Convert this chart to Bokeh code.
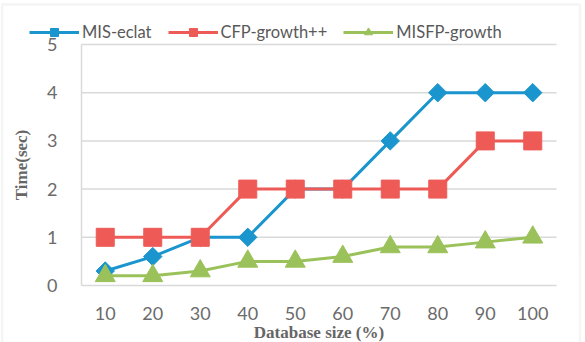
import numpy as np
from bokeh.plotting import figure
from bokeh.models import (Legend, LegendItem, FixedTicker, Range1d, LinearAxis,
                          BoxAnnotation)
from bokeh.embed import file_html
from bokeh.resources import INLINE

sizes = [10, 20, 30, 40, 50, 60, 70, 80, 90, 100]
mis_eclat = [0.3, 0.6, 1, 1, 2, 2, 3, 4, 4, 4]
cfp_growth = [1, 1, 1, 2, 2, 2, 2, 2, 3, 3]
misfp_growth = [0.2, 0.2, 0.3, 0.5, 0.5, 0.6, 0.8, 0.8, 0.9, 1.0]
series_names = ["MIS-eclat", "CFP-growth++", "MISFP-growth"]
y_ticks = [0, 1, 2, 3, 4, 5]

BLUE = "#1B95CD"
RED = "#EE5B57"
GREEN = "#9BC25A"
TXT = "#6b6b6b"
GRID = "#d9d9d9"

# layout geometry (pixels)
W, H = 585, 342
PL, PR, PT, PB = 81, 556, 44, 285      # plot area edges
X_LO, X_HI = 5, 105                     # data extent of the plot area
Y_LO, Y_HI = 0, 5

sx = (PR - PL) / (X_HI - X_LO)
sy = (PB - PT) / (Y_HI - Y_LO)
def px2x(px): return X_LO + (px - PL) / sx
def py2y(py): return Y_LO + (PB - py) / sy

p = figure(width=W, height=H, output_backend="svg", toolbar_location=None,
           x_range=Range1d(px2x(0), px2x(W)), y_range=Range1d(py2y(H), py2y(0)),
           x_axis_location=None, y_axis_location=None,
           min_border=0, min_border_left=0, min_border_right=0,
           min_border_top=0, min_border_bottom=0)
p.outline_line_color = None
p.background_fill_color = "white"
p.border_fill_color = "white"
p.xgrid.visible = False
p.ygrid.visible = False

# horizontal gridlines
p.segment(x0=[X_LO] * len(y_ticks[1:]), x1=[X_HI] * len(y_ticks[1:]),
          y0=y_ticks[1:], y1=y_ticks[1:], line_color=GRID, line_width=1.5)

# axes
xaxis = LinearAxis(fixed_location=Y_LO, bounds=(X_LO, X_HI),
                   ticker=FixedTicker(ticks=sizes), axis_label="Database size (%)")
yaxis = LinearAxis(fixed_location=X_LO, bounds=(Y_LO, Y_HI),
                   ticker=FixedTicker(ticks=y_ticks), axis_label="Time(sec)")
for ax in (xaxis, yaxis):
    ax.major_tick_line_color = None
    ax.minor_tick_line_color = None
    ax.axis_line_color = GRID
    ax.axis_line_width = 1.5
    ax.major_label_text_color = TXT
    ax.major_label_text_font = "Lato"
    ax.major_label_text_font_size = "18px"
    ax.axis_label_text_font = "Liberation Serif"
    ax.axis_label_text_font_style = "bold"
    ax.axis_label_text_font_size = "17px"
    ax.axis_label_text_color = "#666666"
xaxis.major_label_standoff = 15
xaxis.axis_label_standoff = 0
yaxis.major_label_standoff = 18
yaxis.axis_label_standoff = 13
p.add_layout(xaxis, "below")
p.add_layout(yaxis, "left")

l1 = p.line(sizes, mis_eclat, line_color=BLUE, line_width=3)
m1 = p.scatter(sizes, mis_eclat, marker="square", angle=np.pi / 4, size=13,
               fill_color=BLUE, line_color=BLUE)
l2 = p.line(sizes, cfp_growth, line_color=RED, line_width=3)
m2 = p.scatter(sizes, cfp_growth, marker="square", size=18,
               fill_color=RED, line_color=RED)
l3 = p.line(sizes, misfp_growth, line_color=GREEN, line_width=3)
m3 = p.scatter(sizes, misfp_growth, marker="triangle", size=20,
               fill_color=GREEN, line_color=GREEN)

legend = Legend(items=[
    LegendItem(label=series_names[0], renderers=[l1, m1]),
    LegendItem(label=series_names[1], renderers=[l2, m2]),
    LegendItem(label=series_names[2], renderers=[l3, m3]),
], location=(29, H - 42), orientation="horizontal")
legend.padding = 0
legend.margin = 0
legend.spacing = 16
legend.glyph_width = 50
legend.glyph_height = 20
legend.label_height = 20
legend.label_standoff = 3
legend.label_text_font = "Lato"
legend.label_text_font_size = "16.5px"
legend.label_text_color = "#595959"
legend.border_line_color = None
legend.background_fill_alpha = 0
p.add_layout(legend, "center")

# outer chart border
p.add_layout(BoxAnnotation(left=px2x(1.5), right=px2x(579.5), top=py2y(4), bottom=py2y(H + 5),
                           fill_alpha=0, line_color="#dedede", line_width=2.5))

open("out.html", "w").write(file_html(p, INLINE))
